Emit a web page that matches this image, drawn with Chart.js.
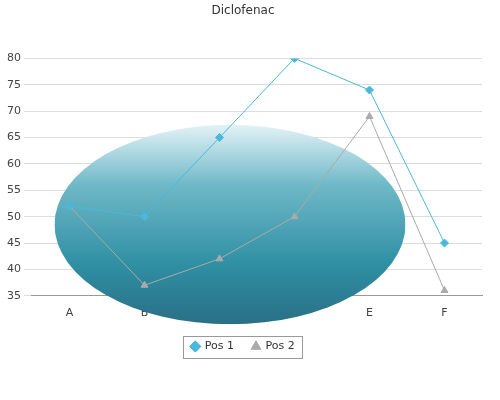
<!DOCTYPE html>
<html>
<head>
<script src="https://cdn.jsdelivr.net/npm/chart.js@4"></script>
<style>
    body { margin: 0; background: #fff; }
    #wrap { width: 500px; height: 400px; }
</style>
</head>
<body>
<div id="wrap"><canvas id="chart"></canvas></div>
<script>
    var categories = ['A', 'B', 'C', 'D', 'E', 'F'];
    var pos1 = [52, 50, 65, 80, 74, 45];
    var pos2 = [52, 37, 42, 50, 69, 36];
    var yTicks = [35, 40, 45, 50, 55, 60, 65, 70, 75, 80];

    // soft ellipse behind the plot, like the picture in the original
    var backdrop = {
        id: 'backdrop',
        beforeDatasetsDraw: function(chart) {
            var ctx = chart.ctx;
            var a = chart.chartArea;
            var cx = a.left + (a.right - a.left) * 0.44;
            var cy = a.top + (a.bottom - a.top) * 0.70;
            var rx = (a.right - a.left) * 0.39;
            var ry = (a.bottom - a.top) * 0.42;
            ctx.save();
            ctx.beginPath();
            ctx.ellipse(cx, cy, rx, ry, 0, 0, Math.PI * 2);
            ctx.clip();
            var g = ctx.createLinearGradient(0, cy - ry, 0, cy + ry);
            g.addColorStop(0, '#e3f2f6');
            g.addColorStop(0.3, '#6fb9c8');
            g.addColorStop(0.7, '#2f8fa3');
            g.addColorStop(1, '#2a6f86');
            ctx.fillStyle = g;
            ctx.fillRect(cx - rx, cy - ry, rx * 2, ry * 2);
            ctx.restore();
        }
    };

    // thin frame around the legend
    var legendFrame = {
        id: 'legendFrame',
        afterDraw: function(chart) {
            var l = chart.legend;
            var ctx = chart.ctx;
            var w = 0;
            l.legendHitBoxes.forEach(function(b) { w = Math.max(w, b.left + b.width); });
            var x0 = l.legendHitBoxes[0].left - 8;
            var y0 = l.legendHitBoxes[0].top - 5;
            ctx.save();
            ctx.strokeStyle = '#999';
            ctx.lineWidth = 1;
            ctx.strokeRect(Math.round(x0) + 0.5, Math.round(y0) + 0.5, Math.round(w - x0 + 8), 22);
            ctx.restore();
        }
    };

    new Chart(document.getElementById('chart'), {
        type: 'line',
        data: {
            labels: categories,
            datasets: [{
                label: 'Pos 1',
                data: pos1,
                borderColor: '#4ab8dc',
                backgroundColor: '#4ab8dc',
                borderWidth: 1,
                pointStyle: 'rectRot',
                pointRadius: 4,
                tension: 0
            }, {
                label: 'Pos 2',
                data: pos2,
                borderColor: '#aaaaaa',
                backgroundColor: '#aaaaaa',
                borderWidth: 1,
                pointStyle: 'triangle',
                pointRadius: 4,
                tension: 0
            }]
        },
        plugins: [backdrop, legendFrame],
        options: {
            responsive: true,
            maintainAspectRatio: false,
            animation: false,
            layout: { padding: { left: 4, right: 18, top: 0, bottom: 38 } },
            plugins: {
                title: {
                    display: true,
                    text: 'Diclofenac',
                    color: '#333',
                    font: { family: 'DejaVu Sans', size: 12, weight: 'normal' },
                    padding: { top: 4, bottom: 40 }
                },
                legend: {
                    position: 'bottom',
                    labels: {
                        usePointStyle: true,
                        boxWidth: 8,
                        boxHeight: 8,
                        color: '#333',
                        font: { family: 'DejaVu Sans', size: 11 },
                        padding: 18
                    }
                },
                tooltip: { enabled: false }
            },
            scales: {
                x: {
                    offset: true,
                    grid: { display: false },
                    border: { color: '#999' },
                    ticks: { color: '#444', font: { family: 'DejaVu Sans', size: 11 } }
                },
                y: {
                    min: 35,
                    max: 80,
                    afterBuildTicks: function(axis) {
                        axis.ticks = yTicks.map(function(v) { return { value: v }; });
                    },
                    grid: { color: '#dddddd' },
                    border: { display: false },
                    ticks: { color: '#444', font: { family: 'DejaVu Sans', size: 11 } }
                }
            }
        }
    });
</script>
</body>
</html>
